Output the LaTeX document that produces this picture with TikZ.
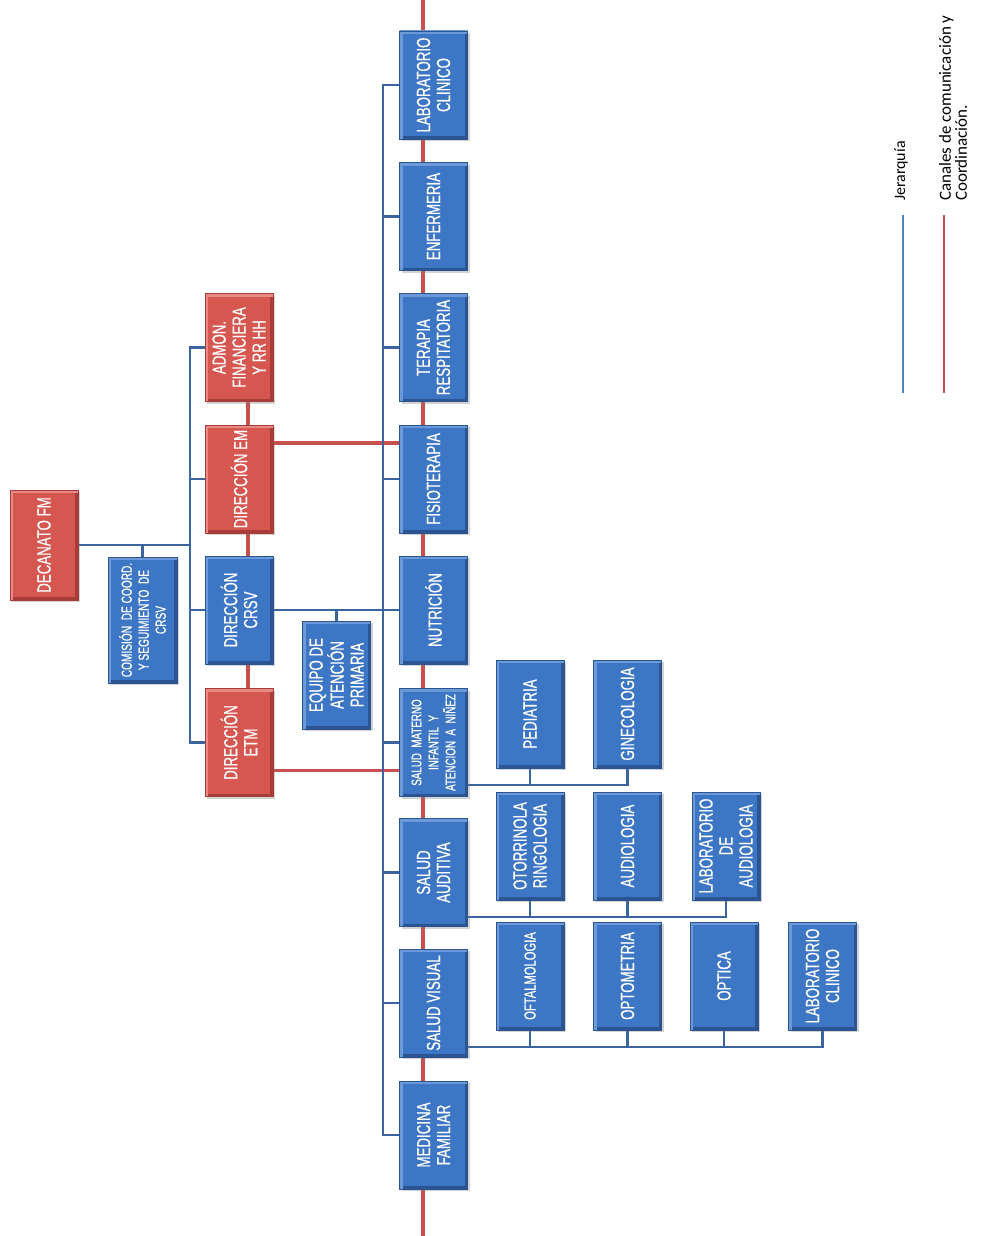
\documentclass[tikz,border=0pt]{standalone}
\usepackage{fontspec}
\usetikzlibrary{shadows,calc}
\newfontfamily\boxfont[FakeStretch=0.7,FakeBold=0.5]{Liberation Sans}
\newfontfamily\legfont{Carlito}
\definecolor{bxblue}{HTML}{3D76C4}
\definecolor{bxblueL}{HTML}{6C9AD8}
\definecolor{bxblueD}{HTML}{2A5592}
\definecolor{bxred}{HTML}{D65650}
\definecolor{bxredL}{HTML}{E88A84}
\definecolor{bxredD}{HTML}{A83C38}
\definecolor{lnblue}{HTML}{3A64A0}
\definecolor{lnred}{HTML}{C8504C}
\definecolor{lgblue}{HTML}{4F81BD}
\definecolor{lgred}{HTML}{C0504D}
\pgfdeclarelayer{bg}
\pgfsetlayers{bg,main}
\tikzset{
  basebox/.style={rectangle, inner sep=0pt, minimum width=68pt, minimum height=108pt,
    line width=0.6pt, drop shadow={opacity=0.35, shadow xshift=2pt, shadow yshift=-2pt}},
  bluebox/.style={basebox, fill=bxblue, draw=bxblueD,
    path picture={
      \draw[line width=6pt, bxblueD] (path picture bounding box.north east) -- (path picture bounding box.south east) -- (path picture bounding box.south west);
      \draw[line width=6pt, bxblueL] (path picture bounding box.south west) -- (path picture bounding box.north west) -- (path picture bounding box.north east);}},
  redbox/.style={basebox, fill=bxred, draw=bxredD,
    path picture={
      \draw[line width=6pt, bxredD] (path picture bounding box.north east) -- (path picture bounding box.south east) -- (path picture bounding box.south west);
      \draw[line width=6pt, bxredL] (path picture bounding box.south west) -- (path picture bounding box.north west) -- (path picture bounding box.north east);}},
  btext/.style={rotate=90, text=white, align=center, font=\boxfont\fontsize{19}{20}\selectfont, inner sep=0pt},
  mtext/.style={btext, font=\boxfont\fontsize{16}{20}\selectfont},
  stext/.style={rotate=90, text=white, align=center, font=\boxfont\fontsize{14}{17}\selectfont, inner sep=0pt},
  hier/.style={draw=lnblue, line width=2.8pt},
  coordline/.style={draw=lnred, line width=3.6pt},
  legtext/.style={rotate=90, anchor=west, align=left, font=\legfont\fontsize{16}{15}\selectfont, inner sep=0pt}
}
\newcommand{\obox}[5]{\node[#1] (#2) at (#3) {}; \node[#4] at (#2.center) {#5};}
\begin{document}
\begin{tikzpicture}[x=1pt, y=-1pt]
\begin{pgfonlayer}{bg}
\fill[white] (0,0) rectangle (980,1236);
\end{pgfonlayer}
\useasboundingbox (0,0) rectangle (980,1236);
% left part
\obox{redbox, minimum height=110pt}{dec}{44,545}{btext}{DECANATO FM}
\obox{bluebox, minimum width=69pt, minimum height=126pt}{com}{142.5,620}{stext, font=\boxfont\fontsize{14.5}{17}\selectfont}{COMISIÓN \ DE COORD.\\Y SEGUIMIENTO \ DE\\CRSV}
\obox{redbox}{adm}{239,347.5}{btext}{ADMON.\\FINANCIERA\\Y RR HH}
\obox{redbox}{em}{239,479}{btext}{DIRECCIÓN EM}
\obox{bluebox}{crsv}{239,610}{btext}{DIRECCIÓN\\CRSV}
\obox{redbox}{etm}{239,742.5}{btext}{DIRECCIÓN\\ETM}
\obox{bluebox}{eq}{336.5,675}{btext}{EQUIPO DE\\ATENCIÓN\\PRIMARIA}
% main column
\obox{bluebox}{lab}{433.5,85}{btext}{LABORATORIO\\CLINICO}
\obox{bluebox}{enf}{433.5,216.5}{btext}{ENFERMERIA}
\obox{bluebox}{ter}{433.5,347.5}{btext}{TERAPIA\\RESPITATORIA}
\obox{bluebox}{fis}{433.5,479}{btext}{FISIOTERAPIA}
\obox{bluebox}{nut}{433.5,610}{btext}{NUTRICIÓN}
\obox{bluebox}{sm}{433.5,742.5}{stext}{SALUD \ MATERNO\\INFANTIL \ Y\\ATENCION \ A \ NIÑEZ}
\obox{bluebox}{sa}{433.5,872.5}{btext}{SALUD\\AUDITIVA}
\obox{bluebox}{sv}{433.5,1003}{btext}{SALUD VISUAL}
\obox{bluebox}{mf}{433.5,1135}{btext}{MEDICINA\\FAMILIAR}
% sub-units
\obox{bluebox}{ped}{530,714}{btext}{PEDIATRIA}
\obox{bluebox}{gin}{627.5,714}{btext}{GINECOLOGIA}
\obox{bluebox}{oto}{530,846}{btext}{OTORRINOLA\\RINGOLOGIA}
\obox{bluebox}{aud}{627.5,846}{btext}{AUDIOLOGIA}
\obox{bluebox}{laba}{726,846}{btext}{LABORATORIO\\DE\\AUDIOLOGIA}
\obox{bluebox}{oft}{530,976}{mtext}{OFTALMOLOGIA}
\obox{bluebox}{opt}{627.5,976}{btext}{OPTOMETRIA}
\obox{bluebox}{opc}{724,976}{btext}{OPTICA}
\obox{bluebox}{labc}{822.5,976}{btext}{LABORATORIO\\CLINICO}
% legend
\coordinate (lgb1) at (903,215);
\coordinate (lgb2) at (903,393);
\coordinate (lgr1) at (944,215);
\coordinate (lgr2) at (944,393);
\draw[draw=lgblue, line width=2.6pt] (lgb1) -- (lgb2);
\draw[draw=lgred, line width=2.6pt] (lgr1) -- (lgr2);
\node[legtext] (lj) at (901,201) {Jerarquía};
\node[legtext, font=\legfont\fontsize{17}{16}\selectfont] (lc) at (953,201) {Canales de comunicación y\\Coordinación.};
% connectors
\begin{pgfonlayer}{bg}
\coordinate (t1) at (190,545);
\coordinate (t2) at (383,610);
\coordinate (rtop) at (423,0);
\coordinate (rbot) at (423,1236);
% red coordination lines
\draw[coordline] (rtop) -- (rbot);
\draw[coordline] ([xshift=9pt]adm.south) -- ([xshift=9pt]etm.north);
\draw[coordline] ([yshift=36pt]em.east) -- ([yshift=36pt]fis.west);
\draw[coordline] ([yshift=-28pt]etm.east) -- ([yshift=-28pt]sm.west);
% hierarchy
\draw[hier] (dec.east) -- (t1);
\draw[hier] (com.north) -- (com.north |- dec.east);
\draw[hier] (adm.west) -- (adm.west -| t1) -- (etm.west -| t1) -- (etm.west);
\draw[hier] (em.west) -- (em.west -| t1);
\draw[hier] (crsv.west) -- (crsv.west -| t1);
\draw[hier] (crsv.east) -- (t2);
\draw[hier] (eq.north) -- (eq.north |- crsv.east);
\draw[hier] (lab.west) -- (lab.west -| t2) -- (mf.west -| t2) -- (mf.west);
\foreach \n in {enf,ter,fis,nut,sm,sa,sv} { \draw[hier] (\n.west) -- (\n.west -| t2); }
% sub-branches
\coordinate (smb) at ([yshift=-42.5pt]sm.east);
\coordinate (sab) at ([yshift=-44.5pt]sa.east);
\coordinate (svb) at ([yshift=-44pt]sv.east);
\draw[hier] (smb) -| (gin.south);
\draw[hier] (ped.south) -- (ped.south |- smb);
\draw[hier] (sab) -| (laba.south);
\draw[hier] (oto.south) -- (oto.south |- sab);
\draw[hier] (aud.south) -- (aud.south |- sab);
\draw[hier] (svb) -| (labc.south);
\draw[hier] (oft.south) -- (oft.south |- svb);
\draw[hier] (opt.south) -- (opt.south |- svb);
\draw[hier] (opc.south) -- (opc.south |- svb);
\end{pgfonlayer}
\end{tikzpicture}
\end{document}
